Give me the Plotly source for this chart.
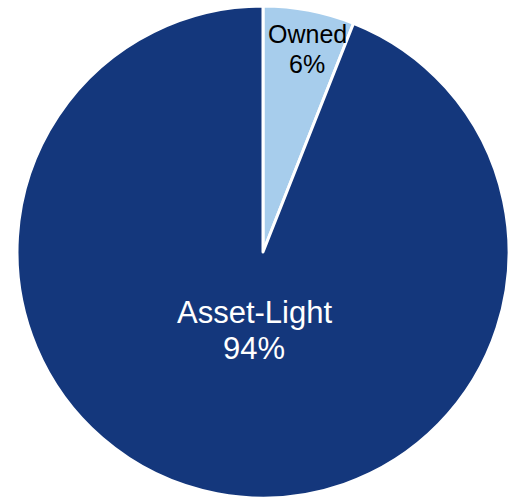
import plotly.graph_objects as go

labels = ["Owned", "Asset-Light"]
values = [6, 94]
colors = ["#A7CDEC", "#14377C"]
text_colors = ["#000000", "#FFFFFF"]

W, H = 509, 501
cx, cy, r = 263, 252, 246

fig = go.Figure(go.Pie(
    labels=labels, values=values, sort=False, direction="clockwise", rotation=0,
    marker=dict(colors=colors, line=dict(color="white", width=3)),
    textinfo="none", hoverinfo="label+percent", showlegend=False,
    domain=dict(x=[(cx - r) / W, 1], y=[(H - cy - r) / H, (H - cy + r) / H]),
))

# label placements (pixel from top-left): (x, label-line middle, percent-line middle, font size)
placements = [(307, 34, 64, 25), (254, 312, 348, 31)]
total = sum(values)
for lab, val, tc, (px, y1, y2, fs) in zip(labels, values, text_colors, placements):
    for txt, py in ((lab, y1), (f"{round(val / total * 100)}%", y2)):
        fig.add_annotation(x=px / W, y=1 - py / H, xref="paper", yref="paper",
                           text=txt, showarrow=False, xanchor="center", yanchor="middle",
                           font=dict(family="Liberation Sans, Arial", size=fs, color=tc))

fig.update_layout(width=W, height=H, margin=dict(l=0, r=0, t=0, b=0),
                  paper_bgcolor="white", plot_bgcolor="white")
fig.write_html("out.html")
